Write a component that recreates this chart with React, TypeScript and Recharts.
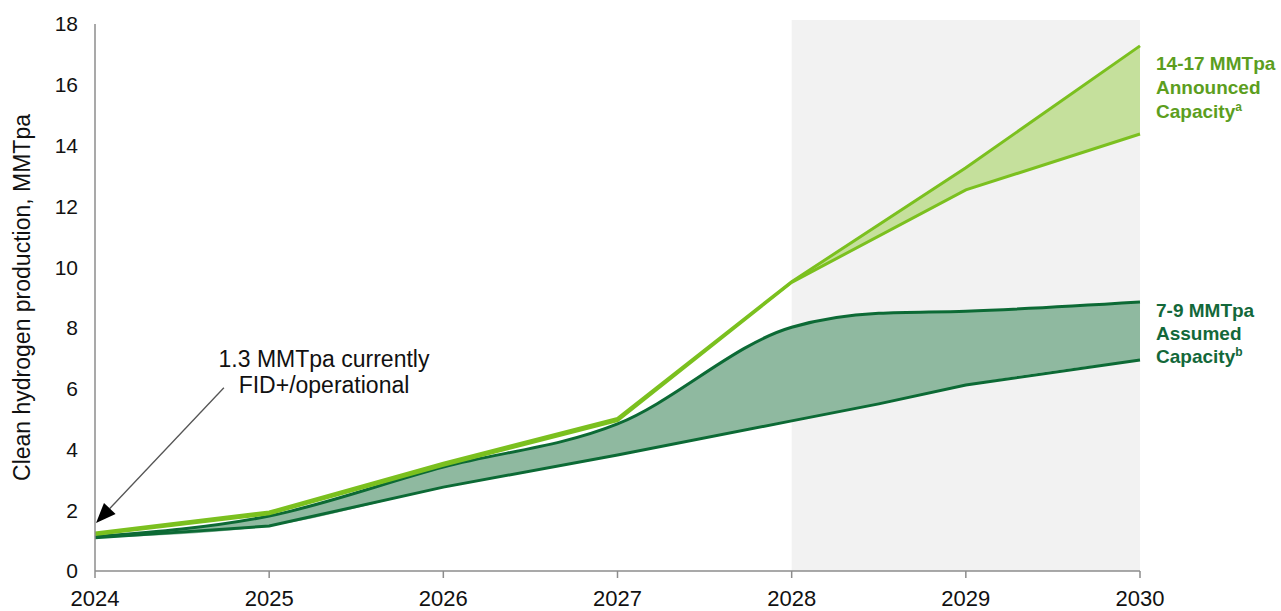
import * as React from 'react';
import { ComposedChart, Area, Line, XAxis, YAxis, ReferenceArea, ReferenceLine } from 'recharts';

// values, MMTpa (2028.5 = mid-year reading of the assumed band)
const years = [2024, 2025, 2026, 2027, 2028, 2028.5, 2029, 2030];
const announcedHigh = [1.25, 1.94, 3.55, 5.02, 9.52, null, 13.27, 17.28];
const announcedLow = [1.2, 1.88, 3.48, 4.95, 9.5, null, 12.54, 14.38];
const assumedHigh = [1.13, 1.81, 3.42, 4.84, 8.02, 8.48, 8.55, 8.85];
const assumedLow = [1.09, 1.48, 2.76, 3.82, 4.94, 5.5, 6.12, 6.94];
const xTicks = [2024, 2025, 2026, 2027, 2028, 2029, 2030];
const yTicks = [0, 2, 4, 6, 8, 10, 12, 14, 16, 18];

const data = years.map((year, i) => ({
  year,
  announcedHigh: announcedHigh[i],
  announcedLow: announcedLow[i],
  assumedHigh: assumedHigh[i],
  assumedLow: assumedLow[i],
}));

const FONT = '"Liberation Sans", Arial, Helvetica, sans-serif';
const LIGHT = '#7bc01f';
const LIGHT_FILL = '#c5e09c';
const DARK = '#0c6a35';
const DARK_FILL = '#8fb9a0';
const AXIS = '#8c8c8c';

const ArrowShape = (props: any) => {
  const { x1, y1, x2, y2 } = props;
  const ang = Math.atan2(y2 - y1, x2 - x1);
  const len = 20;
  const half = 8;
  const bx = x2 - len * Math.cos(ang);
  const by = y2 - len * Math.sin(ang);
  const px = -Math.sin(ang) * half;
  const py = Math.cos(ang) * half;
  return (
    <g>
      <line x1={x1} y1={y1} x2={bx} y2={by} stroke="#555" strokeWidth={1.3} />
      <polygon points={`${x2},${y2} ${bx + px},${by + py} ${bx - px},${by - py}`} fill="#000" />
    </g>
  );
};

const YLabel = (props: any) => {
  const vb = props.viewBox || { y: 24, height: 547 };
  const cx = 30;
  const cy = vb.y + vb.height / 2;
  return (
    <text x={cx} y={cy} transform={`rotate(-90 ${cx} ${cy})`} textAnchor="middle"
      fontFamily={FONT} fontSize={23} fill="#111">
      Clean hydrogen production, MMTpa
    </text>
  );
};

const range = (lo: string, hi: string) => (d: any) =>
  d[lo] == null || d[hi] == null ? null : [d[lo], d[hi]];

export default function App() {
  return (
    <div style={{ position: 'absolute', left: 0, top: 0 }}>
      <ComposedChart width={1281} height={611} data={data}
        margin={{ top: 24, right: 141, bottom: 4, left: 0 }}>
        <ReferenceArea x1={2028} x2={2030} y1={0} y2={18.13} ifOverflow="visible"
          fill="#f2f2f2" fillOpacity={1} stroke="none" />
        <XAxis dataKey="year" type="number" domain={[2024, 2030]} ticks={xTicks}
          height={36} tickSize={7} tickMargin={12}
          axisLine={{ stroke: AXIS, strokeWidth: 1.5 }} tickLine={{ stroke: AXIS, strokeWidth: 1.5 }}
          tick={{ fill: '#111', fontSize: 22, fontFamily: FONT }} />
        <YAxis type="number" domain={[0, 18]} ticks={yTicks} width={95}
          tickLine={false} tickSize={0} tickMargin={17}
          axisLine={{ stroke: AXIS, strokeWidth: 1.5 }}
          tick={{ fill: '#111', fontSize: 21, fontFamily: FONT }}
          label={{ content: YLabel }} />
        <Area dataKey={range('assumedLow', 'assumedHigh')} type="monotone"
          fill={DARK_FILL} fillOpacity={1} stroke="none" isAnimationActive={false} />
        <Area dataKey={range('announcedLow', 'announcedHigh')} type="linear" connectNulls
          fill={LIGHT_FILL} fillOpacity={1} stroke="none" isAnimationActive={false} />
        <Line dataKey="assumedLow" type="linear" stroke={DARK} strokeWidth={3} dot={false} isAnimationActive={false} />
        <Line dataKey="assumedHigh" type="monotone" stroke={DARK} strokeWidth={3} dot={false} isAnimationActive={false} />
        <Line dataKey="announcedLow" type="linear" connectNulls stroke={LIGHT} strokeWidth={3} dot={false} isAnimationActive={false} />
        <Line dataKey="announcedHigh" type="linear" connectNulls stroke={LIGHT} strokeWidth={3} dot={false} isAnimationActive={false} />
        <ReferenceLine segment={[{ x: 2024.74, y: 6.03 }, { x: 2024.006, y: 1.58 }]}
          shape={ArrowShape} ifOverflow="visible" />

        <text textAnchor="middle" fontFamily={FONT} fontSize={23} fill="#111">
          <tspan x={324} y={367}>1.3 MMTpa currently</tspan>
          <tspan x={324} y={393}>FID+/operational</tspan>
        </text>

        <text fontFamily={FONT} fontSize={18} fontStyle="italic" fill="#1a1a1a">
          <tspan x={817} y={68}>Does not include</tspan>
          <tspan x={817} y={92}>potential projects</tspan>
          <tspan x={817} y={115}>announced in</tspan>
          <tspan x={817} y={138}>2024-25</tspan>
        </text>

        <text fontFamily={FONT} fontSize={19} fontWeight="bold" fill="#5c9e1e">
          <tspan x={1156} y={70}>14-17 MMTpa</tspan>
          <tspan x={1156} y={94}>Announced</tspan>
          <tspan x={1156} y={118}>Capacity</tspan>
          <tspan dy={-7} fontSize={12}>a</tspan>
        </text>

        <text fontFamily={FONT} fontSize={19} fontWeight="bold" fill="#13683a">
          <tspan x={1156} y={317}>7-9 MMTpa</tspan>
          <tspan x={1156} y={340}>Assumed</tspan>
          <tspan x={1156} y={363}>Capacity</tspan>
          <tspan dy={-7} fontSize={12}>b</tspan>
        </text>
      </ComposedChart>
    </div>
  );
}
